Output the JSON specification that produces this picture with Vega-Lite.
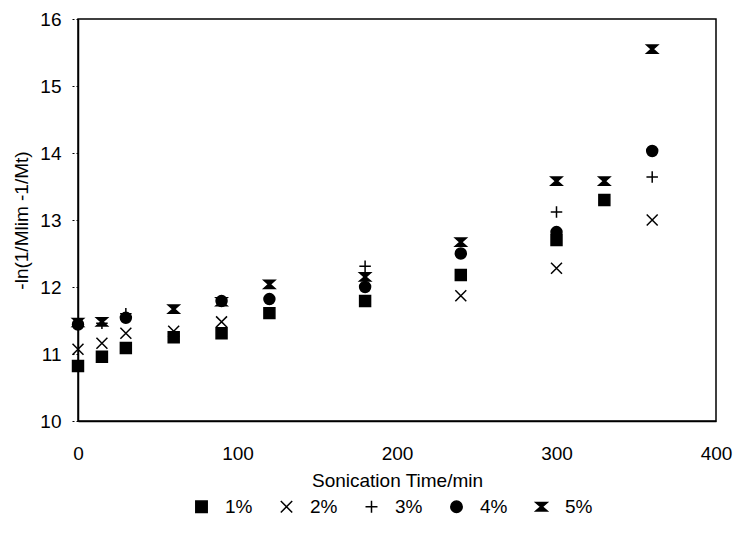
{
  "$schema": "https://vega.github.io/schema/vega-lite/v6.json",
  "autosize": "none",
  "width": 638,
  "height": 402,
  "padding": {"left": 78, "top": 19, "right": 18, "bottom": 126},
  "background": "white",
  "config": {
    "font": "Liberation Sans",
    "view": {"stroke": "black", "strokeWidth": 1.5},
    "axis": {"grid": false, "domainColor": "black", "domainWidth": 1.5, "labelColor": "black", "titleColor": "black", "labelFont": "Liberation Sans", "titleFont": "Liberation Sans", "titleFontWeight": "normal", "labelFontSize": 19, "titleFontSize": 19},
    "legend": {"labelFont": "Liberation Sans", "labelFontSize": 19, "labelColor": "black"}
  },
  "data": {
    "values": [
      {"t": 0, "v": 10.82, "s": "1%"},
      {"t": 15, "v": 10.96, "s": "1%"},
      {"t": 30, "v": 11.09, "s": "1%"},
      {"t": 60, "v": 11.25, "s": "1%"},
      {"t": 90, "v": 11.31, "s": "1%"},
      {"t": 120, "v": 11.61, "s": "1%"},
      {"t": 180, "v": 11.79, "s": "1%"},
      {"t": 240, "v": 12.18, "s": "1%"},
      {"t": 300, "v": 12.70, "s": "1%"},
      {"t": 330, "v": 13.30, "s": "1%"},
      {"t": 0, "v": 11.07, "s": "2%"},
      {"t": 15, "v": 11.16, "s": "2%"},
      {"t": 30, "v": 11.31, "s": "2%"},
      {"t": 60, "v": 11.34, "s": "2%"},
      {"t": 90, "v": 11.48, "s": "2%"},
      {"t": 240, "v": 11.87, "s": "2%"},
      {"t": 300, "v": 12.28, "s": "2%"},
      {"t": 360, "v": 13.00, "s": "2%"},
      {"t": 0, "v": 11.44, "s": "3%"},
      {"t": 15, "v": 11.46, "s": "3%"},
      {"t": 30, "v": 11.60, "s": "3%"},
      {"t": 180, "v": 12.31, "s": "3%"},
      {"t": 300, "v": 13.12, "s": "3%"},
      {"t": 360, "v": 13.64, "s": "3%"},
      {"t": 0, "v": 11.44, "s": "4%"},
      {"t": 30, "v": 11.54, "s": "4%"},
      {"t": 90, "v": 11.79, "s": "4%"},
      {"t": 120, "v": 11.82, "s": "4%"},
      {"t": 180, "v": 12.00, "s": "4%"},
      {"t": 240, "v": 12.50, "s": "4%"},
      {"t": 300, "v": 12.82, "s": "4%"},
      {"t": 360, "v": 14.03, "s": "4%"},
      {"t": 0, "v": 11.47, "s": "5%"},
      {"t": 15, "v": 11.48, "s": "5%"},
      {"t": 60, "v": 11.67, "s": "5%"},
      {"t": 90, "v": 11.78, "s": "5%"},
      {"t": 120, "v": 12.04, "s": "5%"},
      {"t": 180, "v": 12.15, "s": "5%"},
      {"t": 240, "v": 12.67, "s": "5%"},
      {"t": 300, "v": 13.58, "s": "5%"},
      {"t": 330, "v": 13.58, "s": "5%"},
      {"t": 360, "v": 15.55, "s": "5%"}
    ]
  },
  "mark": {"type": "point", "filled": true, "fill": "black", "stroke": "black", "strokeWidth": 1.5, "opacity": 1, "size": 120},
  "encoding": {
    "x": {"field": "t", "type": "quantitative", "scale": {"domain": [0, 400], "nice": false, "zero": false},
      "axis": {"title": "Sonication Time/min", "values": [0, 100, 200, 300, 400], "ticks": false, "labelPadding": 23, "titlePadding": 8, "labelFlush": false}},
    "y": {"field": "v", "type": "quantitative", "scale": {"domain": [10, 16], "nice": false, "zero": false},
      "axis": {"title": "-ln(1/Mlim -1/Mt)", "values": [10, 11, 12, 13, 14, 15, 16], "tickSize": 8, "tickDash": [2, 2], "tickColor": "black", "labelPadding": 9, "titlePadding": 8, "labelFlush": false}},
    "shape": {"field": "s", "type": "nominal",
      "scale": {"domain": ["1%", "2%", "3%", "4%", "5%"],
        "range": ["square", "M-1,-1L1,1M-1,1L1,-1", "M-1.05,0L1.05,0M0,-1.05L0,1.05", "circle", "M-1,-0.75L1,-0.75L0.15,0L1,0.75L-1,0.75L-0.15,0Z"]},
      "legend": {"title": null, "orient": "none", "direction": "horizontal", "legendX": 114, "legendY": 478, "columnPadding": 24, "labelOffset": 14, "symbolSize": 130,
        "encode": {"symbols": {"update": {"fill": {"value": "black"}, "stroke": {"value": "black"}, "strokeWidth": {"value": 1.5}, "opacity": {"value": 1}}}}}}
  }
}
